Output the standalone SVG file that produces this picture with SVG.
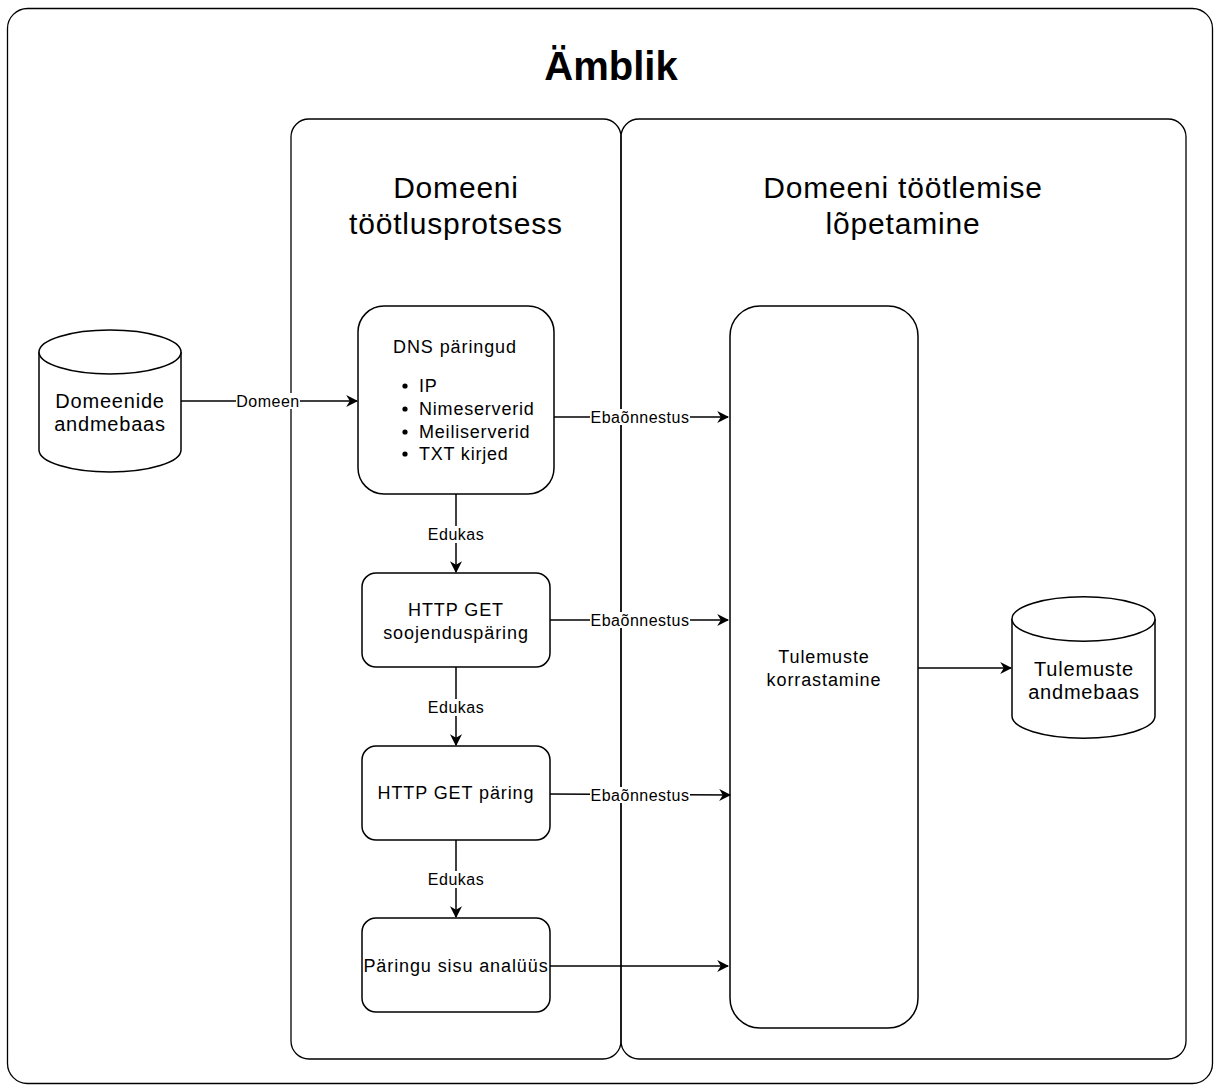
<svg xmlns="http://www.w3.org/2000/svg" width="1214" height="1086" viewBox="0 0 1214 1086">
<defs>
<marker id="arr" viewBox="0 0 10 10" refX="9" refY="5" markerWidth="12" markerHeight="12" markerUnits="userSpaceOnUse" orient="auto">
<path d="M0,0 L10,5 L0,10 L3,5 Z" fill="#000"/>
</marker>
<style>
text{font-family:"Liberation Sans",Arial,sans-serif;fill:#000}
.box{fill:#fff;stroke:#000;stroke-width:1.5}
.lane{fill:none;stroke:#000;stroke-width:1.3}
.t{font-size:18px;text-anchor:middle;letter-spacing:0.9px}
.bl{font-size:18px;letter-spacing:0.8px}
.db{font-size:20px;text-anchor:middle;letter-spacing:0.8px}
.lbl{font-size:16px;text-anchor:middle;letter-spacing:0.5px}
.lb{fill:#fff}
.c{fill:none;stroke:#000;stroke-width:1.5;marker-end:url(#arr)}
.h{font-size:30px;text-anchor:middle;letter-spacing:0.8px}
</style>
</defs>
<rect width="1214" height="1086" fill="#fff"/>
<g id="outer">
<rect x="7.5" y="8.5" width="1205" height="1075" rx="20" class="lane"/>
<text x="611" y="80" font-size="40" font-weight="bold" text-anchor="middle">Ämblik</text>
</g>
<g id="lane1">
<rect x="291" y="119" width="330" height="940" rx="18" class="lane"/>
<text class="h" x="456" y="198">Domeeni</text>
<text class="h" x="456" y="234">töötlusprotsess</text>
</g>
<g id="lane2">
<rect x="621" y="119" width="565" height="940" rx="18" class="lane"/>
<text class="h" x="903" y="198">Domeeni töötlemise</text>
<text class="h" x="903" y="234">lõpetamine</text>
</g>
<g id="db1">
<path d="M39,352 A71,22 0 0 1 181,352 L181,450 A71,22 0 0 1 39,450 Z" class="box"/>
<path d="M39,352 A71,22 0 0 0 181,352" class="box" fill="none"/>
<text class="db" x="110" y="408">Domeenide</text>
<text class="db" x="110" y="431">andmebaas</text>
</g>
<g id="dns">
<rect x="358" y="306" width="196" height="188" rx="26" class="box"/>
<text class="t" x="455" y="353">DNS päringud</text>
<circle cx="405" cy="386" r="2.6"/><text class="bl" x="419" y="392">IP</text>
<circle cx="405" cy="409" r="2.6"/><text class="bl" x="419" y="415">Nimeserverid</text>
<circle cx="405" cy="432" r="2.6"/><text class="bl" x="419" y="438">Meiliserverid</text>
<circle cx="405" cy="454" r="2.6"/><text class="bl" x="419" y="460">TXT kirjed</text>
</g>
<g id="warm">
<rect x="362" y="573" width="188" height="94" rx="14" class="box"/>
<text class="t" x="456" y="616">HTTP GET</text>
<text class="t" x="456" y="639">soojenduspäring</text>
</g>
<g id="get">
<rect x="362" y="746" width="188" height="94" rx="14" class="box"/>
<text class="t" x="456" y="799">HTTP GET päring</text>
</g>
<g id="analysis">
<rect x="362" y="918" width="188" height="94" rx="14" class="box"/>
<text class="t" x="456" y="972">Päringu sisu analüüs</text>
</g>
<g id="sort">
<rect x="730" y="306" width="188" height="722" rx="30" class="box"/>
<text class="t" x="824" y="663">Tulemuste</text>
<text class="t" x="824" y="686">korrastamine</text>
</g>
<g id="db2">
<path d="M1012,619 A71,22 0 0 1 1155,619 L1155,716 A71,22 0 0 1 1012,716 Z" class="box"/>
<path d="M1012,619 A71,22 0 0 0 1155,619" class="box" fill="none"/>
<text class="db" x="1084" y="676">Tulemuste</text>
<text class="db" x="1084" y="699">andmebaas</text>
</g>
<g id="connectors">
<path d="M181,401 L357,401" class="c"/>
<rect x="236" y="393" width="64" height="16" class="lb"/>
<text class="lbl" x="268" y="407">Domeen</text>
<path d="M554,417 L728,417" class="c"/>
<rect x="590" y="409" width="100" height="16" class="lb"/>
<text class="lbl" x="640" y="423">Ebaõnnestus</text>
<path d="M456,494 L456,572" class="c"/>
<rect x="427" y="526" width="58" height="17" class="lb"/>
<text class="lbl" x="456" y="540">Edukas</text>
<path d="M550,620 L728,620" class="c"/>
<rect x="590" y="612" width="100" height="16" class="lb"/>
<text class="lbl" x="640" y="626">Ebaõnnestus</text>
<path d="M456,667 L456,745" class="c"/>
<rect x="427" y="699" width="58" height="17" class="lb"/>
<text class="lbl" x="456" y="713">Edukas</text>
<path d="M550,794 L730,795" class="c"/>
<rect x="590" y="787" width="100" height="16" class="lb"/>
<text class="lbl" x="640" y="801">Ebaõnnestus</text>
<path d="M456,840 L456,917" class="c"/>
<rect x="427" y="871" width="58" height="17" class="lb"/>
<text class="lbl" x="456" y="885">Edukas</text>
<path d="M550,966 L728,966" class="c"/>
<path d="M918,668 L1011,668" class="c"/>
</g>
</svg>
